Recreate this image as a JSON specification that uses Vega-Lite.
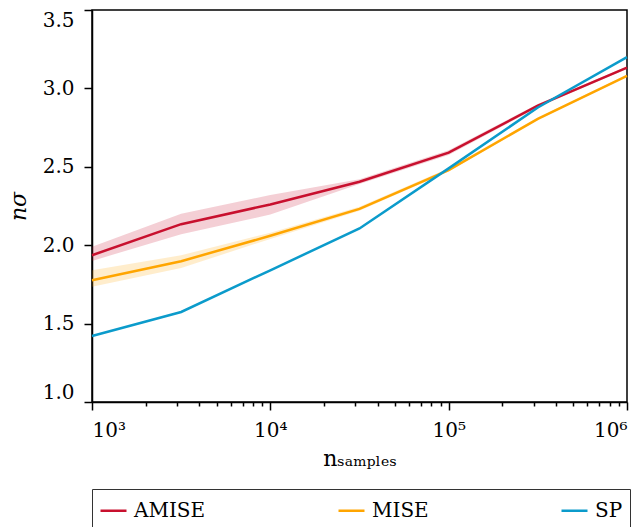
{
  "$schema": "https://vega.github.io/schema/vega-lite/v6.json",
  "width": 535,
  "height": 392,
  "autosize": {"type": "none"},
  "padding": {"left": 92, "top": 10, "right": 14, "bottom": 125},
  "config": {
    "font": "DejaVu Serif",
    "view": {"stroke": "black", "strokeWidth": 1.5},
    "axis": {
      "domainColor": "black", "domainWidth": 1.5, "tickColor": "black", "tickWidth": 1.5,
      "labelColor": "black", "titleColor": "black", "labelFont": "DejaVu Serif", "titleFont": "DejaVu Serif",
      "labelFontSize": 20, "titleFontSize": 22, "grid": false, "titleFontWeight": "normal"
    }
  },
  "data": {"values": [
    {"n": 1000, "method": "AMISE", "value": 1.936, "lo": 1.90, "hi": 1.99},
    {"n": 3162, "method": "AMISE", "value": 2.134, "lo": 2.07, "hi": 2.20},
    {"n": 10000, "method": "AMISE", "value": 2.26, "lo": 2.195, "hi": 2.32},
    {"n": 31623, "method": "AMISE", "value": 2.405, "lo": 2.39, "hi": 2.42},
    {"n": 100000, "method": "AMISE", "value": 2.59, "lo": 2.575, "hi": 2.605},
    {"n": 316228, "method": "AMISE", "value": 2.89, "lo": 2.88, "hi": 2.90},
    {"n": 1000000, "method": "AMISE", "value": 3.132, "lo": 3.125, "hi": 3.14},
    {"n": 1000, "method": "MISE", "value": 1.777, "lo": 1.735, "hi": 1.84},
    {"n": 3162, "method": "MISE", "value": 1.898, "lo": 1.855, "hi": 1.936},
    {"n": 10000, "method": "MISE", "value": 2.06, "lo": 2.04, "hi": 2.08},
    {"n": 31623, "method": "MISE", "value": 2.232, "lo": 2.22, "hi": 2.245},
    {"n": 100000, "method": "MISE", "value": 2.479, "lo": 2.47, "hi": 2.49},
    {"n": 316228, "method": "MISE", "value": 2.806, "lo": 2.80, "hi": 2.815},
    {"n": 1000000, "method": "MISE", "value": 3.08, "lo": 3.075, "hi": 3.087},
    {"n": 1000, "method": "SP", "value": 1.421},
    {"n": 3162, "method": "SP", "value": 1.574},
    {"n": 10000, "method": "SP", "value": 1.84},
    {"n": 31623, "method": "SP", "value": 2.107},
    {"n": 100000, "method": "SP", "value": 2.49},
    {"n": 316228, "method": "SP", "value": 2.878},
    {"n": 1000000, "method": "SP", "value": 3.2}
  ]},
  "encoding": {
    "x": {
      "field": "n", "type": "quantitative",
      "scale": {"type": "log", "domain": [1000, 1000000], "nice": false},
      "axis": {
        "values": [1000,2000,3000,4000,5000,6000,7000,8000,9000,10000,20000,30000,40000,50000,60000,70000,80000,90000,100000,200000,300000,400000,500000,600000,700000,800000,900000,1000000],
        "labelExpr": "datum.value == 1000 ? '10³' : datum.value == 10000 ? '10⁴' : datum.value == 100000 ? '10⁵' : datum.value == 1000000 ? '10⁶' : ''",
        "labelFlush": true, "labelOverlap": false, "labelPadding": 10,
        "tickSize": {"condition": {"test": "abs(log(datum.value)/LN10 - round(log(datum.value)/LN10)) < 0.001", "value": 8}, "value": 4},
        "title": "nₛₐₘₚₗₑₛ", "titlePadding": 8
      }
    }
  },
  "layer": [
    {
      "transform": [{"filter": "isValid(datum.lo)"}],
      "mark": {"type": "area", "fillOpacity": 0.2},
      "encoding": {
        "y": {"field": "lo", "type": "quantitative", "scale": {"domain": [1, 3.5], "nice": false, "zero": false},
          "axis": {"values": [1, 1.5, 2, 2.5, 3, 3.5], "format": ".1f", "labelFlush": true, "tickSize": 8, "labelPadding": 10, "title": "nσ", "titleFontStyle": "italic", "titlePadding": 12}},
        "y2": {"field": "hi"},
        "fill": {"field": "method", "type": "nominal", "scale": {"domain": ["AMISE", "MISE"], "range": ["#c8102e", "#ffa500"]}, "legend": null}
      }
    },
    {
      "mark": {"type": "line", "strokeWidth": 2.5},
      "encoding": {
        "y": {"field": "value", "type": "quantitative", "scale": {"domain": [1, 3.5], "nice": false, "zero": false},
          "axis": {"values": [1, 1.5, 2, 2.5, 3, 3.5], "format": ".1f", "labelFlush": true, "tickSize": 8, "labelPadding": 10, "title": "nσ", "titleFontStyle": "italic", "titlePadding": 12}},
        "color": {"field": "method", "type": "nominal", "scale": {"domain": ["AMISE", "MISE", "SP"], "range": ["#c8102e", "#ffa500", "#0b9bcb"]},
          "legend": {"orient": "none", "legendX": 0, "legendY": 479, "direction": "horizontal", "title": null,
            "strokeColor": "#333", "padding": 7, "labelFont": "DejaVu Serif", "labelFontSize": 20, "labelColor": "black",
            "symbolType": "stroke", "symbolSize": 676, "symbolStrokeWidth": 2.5, "columnPadding": 127, "labelOffset": 6}}
      }
    }
  ]
}
